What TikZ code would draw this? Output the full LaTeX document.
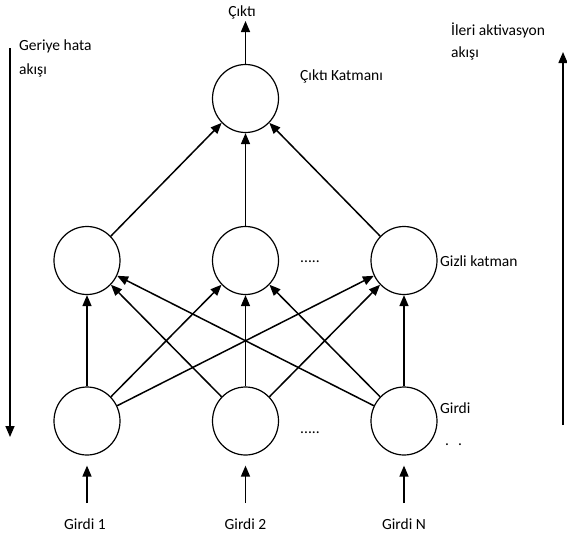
\documentclass[tikz,border=0pt]{standalone}
\usepackage{fontspec}
\setmainfont{Carlito}
\usetikzlibrary{shapes.geometric,arrows.meta}
\begin{document}
\begin{tikzpicture}[x=1pt,y=-1pt,
  neuron/.style={draw, ellipse, line width=1.2pt, minimum width=66pt, minimum height=68pt, inner sep=0pt},
  conn/.style={line width=1.5pt, -{Triangle[length=11pt,width=9pt]}},
  lbl/.style={font=\fontsize{15.5}{18}\selectfont, inner sep=0pt}]
\useasboundingbox (0,0) rectangle (567,538);

% neurons
\node[neuron] (O)  at (245.5,98.5) {};
\node[neuron] (H1) at (87,260.5)    {};
\node[neuron] (H2) at (245.5,260.5) {};
\node[neuron] (H3) at (404,260.5)   {};
\node[neuron] (I1) at (87,421)      {};
\node[neuron] (I2) at (245.5,421)   {};
\node[neuron] (I3) at (404,421)     {};

% output
\coordinate (out) at (245.5,21);
\draw[conn] (O) -- (out);
\node[lbl] (outlbl) at (242,12) {Çıktı};

% hidden -> output
\foreach \h in {H1,H2,H3} \draw[conn] (\h) -- (O);

% input -> hidden
\foreach \i in {I1,I2,I3}
  \foreach \h in {H1,H2,H3}
    \draw[conn] (\i) -- (\h);

% external inputs
\node[lbl] (g1) at (85,524)    {Girdi 1};
\node[lbl] (g2) at (245.5,524) {Girdi 2};
\node[lbl] (g3) at (404,524)   {Girdi N};
\coordinate (g1s) at (87,503);
\coordinate (g2s) at (245.5,503);
\coordinate (g3s) at (404,503);
\draw[conn, shorten >=10pt] (g1s) -- (I1);
\draw[conn, shorten >=10pt] (g2s) -- (I2);
\draw[conn, shorten >=10pt] (g3s) -- (I3);

% layer labels
\node[lbl, anchor=west] (lo) at (300,76)  {Çıktı Katmanı};
\node[lbl, anchor=west] (lh) at (440,261) {Gizli katman};
\node[lbl, anchor=west] (li) at (440,408) {Girdi};
\node[lbl, anchor=west] (lid) at (445,445) {.\hspace{9pt}.};
\node[lbl, anchor=west] (dh) at (300,262) {.....};
\node[lbl, anchor=west] (di) at (300,433) {.....};

% flow directions
\coordinate (bs) at (10,48);
\coordinate (be) at (10,437);
\draw[conn] (bs) -- (be);
\node[lbl, anchor=west] (b1) at (19,46) {Geriye hata};
\node[lbl, anchor=west] (b2) at (19,70) {akışı};

\coordinate (fs) at (563,425);
\coordinate (fe) at (563,52);
\draw[conn] (fs) -- (fe);
\node[lbl, anchor=west] (f1) at (451,30) {İleri aktivasyon};
\node[lbl, anchor=west] (f2) at (451,53) {akışı};
\end{tikzpicture}
\end{document}
